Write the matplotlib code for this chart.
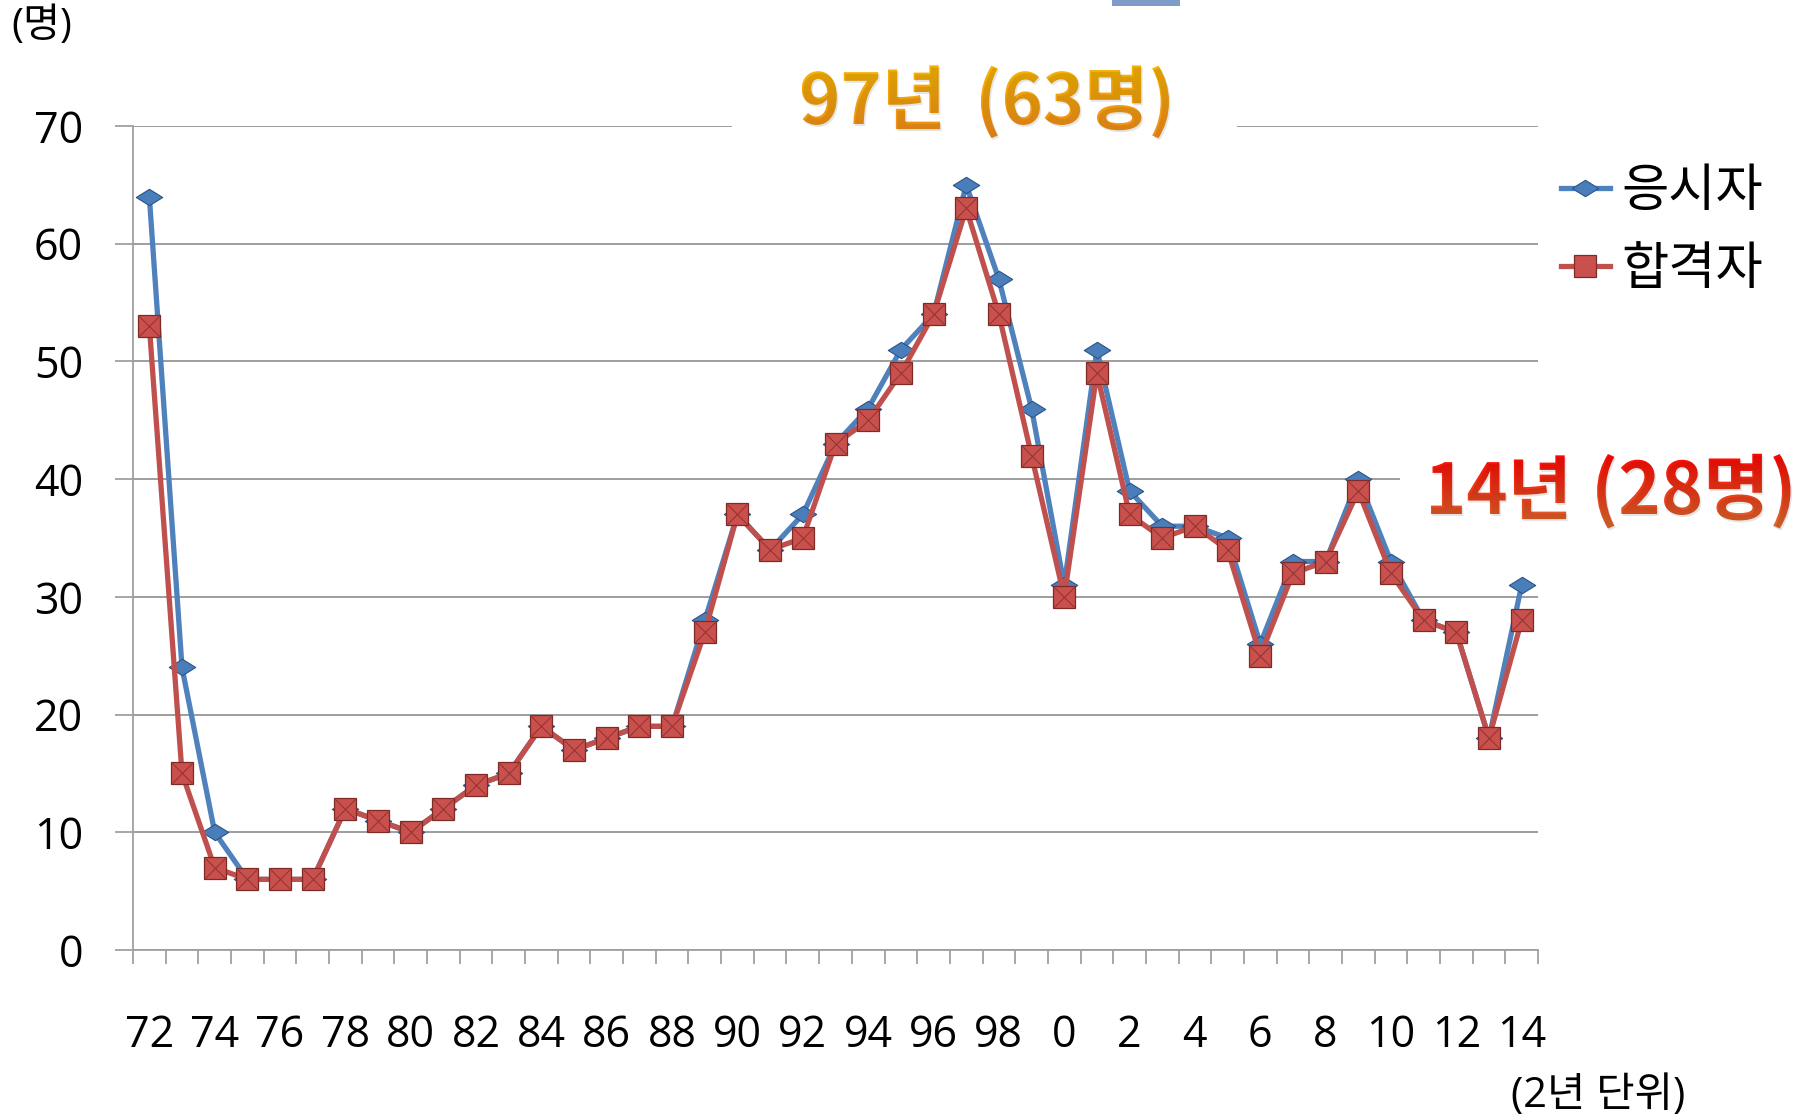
import numpy as np
import matplotlib
matplotlib.use("Agg")
import matplotlib.pyplot as plt
from matplotlib.textpath import TextPath
from matplotlib.patches import PathPatch, Rectangle
from matplotlib.font_manager import FontProperties
from matplotlib.path import Path
from matplotlib.transforms import Affine2D

plt.rcParams['font.family'] = ['Open Sans', 'Noto Sans CJK KR', 'DejaVu Sans']

# 연도 (1972 ~ 2014)
years = list(range(1972, 2015))
tick_labels = [str(y % 100) for y in years[::2]]

# 응시자 / 합격자 (명)
applicants = [64, 24, 10, 6, 6, 6, 12, 11, 10, 12,
              14, 15, 19, 17, 18, 19, 19, 28, 37, 34,
              37, 43, 46, 51, 54, 65, 57, 46, 31, 51,
              39, 36, 36, 35, 26, 33, 33, 40, 33, 28,
              27, 18, 31]
passed = [53, 15, 7, 6, 6, 6, 12, 11, 10, 12,
          14, 15, 19, 17, 18, 19, 19, 27, 37, 34,
          35, 43, 45, 49, 54, 63, 54, 42, 30, 49,
          37, 35, 36, 34, 25, 32, 33, 39, 32, 28,
          27, 18, 28]

W, H = 1802, 1120
fig = plt.figure(figsize=(W / 100, H / 100), dpi=100)
ax = fig.add_axes([133 / W, 1 - 950 / H, 1405 / W, 824 / H])

x = np.arange(len(years))

# 납작한 마름모 마커
diamond = Path([(-1, 0), (0, 0.62), (1, 0), (0, -0.62), (-1, 0)],
               [Path.MOVETO, Path.LINETO, Path.LINETO, Path.LINETO, Path.CLOSEPOLY])

blue = '#4F81BD'
red = '#C0504D'

ax.plot(x, applicants, color=blue, lw=3.8, marker=diamond, ms=19,
        mfc='#4A7EBB', mec='#2C5488', mew=0.8, zorder=3, label='응시자')
ax.plot(x, passed, color=red, lw=3.8, marker='s', ms=16,
        mfc='#C9504C', mec='#7E2A27', mew=0.9, zorder=4, label='합격자')
ax.plot(x, passed, ls='none', marker='x', ms=15, mec='#8E3330', mew=0.7, zorder=5)

ax.set_xlim(-0.5, len(years) - 0.5)
ax.set_ylim(0, 70)
ax.set_yticks(range(0, 71, 10))
ax.set_xticks(x[::2])
ax.set_xticklabels(tick_labels)
ax.set_xticks(np.arange(-0.5, len(years)), minor=True)

ax.tick_params(axis='x', which='major', length=0, pad=46, labelsize=31)
ax.tick_params(axis='x', which='minor', length=10, width=1.3, color='#A0A0A0')
ax.tick_params(axis='y', length=13, width=1.3, color='#A0A0A0', pad=23, labelsize=31)

ax.grid(axis='y', color='#8C8C8C', lw=1.2)
ax.set_axisbelow(True)
for s in ['top', 'right']:
    ax.spines[s].set_visible(False)
for s in ['left', 'bottom']:
    ax.spines[s].set_color('#A0A0A0')
    ax.spines[s].set_linewidth(1.3)

# 주석 텍스트 뒤의 흰 상자 (격자선 가림)
ax.add_patch(Rectangle((0.426, 0.94), 0.36, 0.12, transform=ax.transAxes,
                       facecolor='white', edgecolor='none', zorder=1.5, clip_on=False))
ax.add_patch(Rectangle((0.902, 0.53), 0.12, 0.08, transform=ax.transAxes,
                       facecolor='white', edgecolor='none', zorder=1.5, clip_on=False))

leg = ax.legend(loc='upper left', bbox_to_anchor=(1561 / W, 1 - 167 / H),
                bbox_transform=fig.transFigure, frameon=False, fontsize=37,
                handlelength=0.95, handletextpad=0.22, labelspacing=0.53,
                borderpad=0, borderaxespad=0)

fig.text(11 / W, 1 - 27 / H, '(명)', fontsize=29, va='center', ha='left')
fig.text(1511 / W, 1 - 1096 / H, '(2년 단위)', fontsize=30, va='center', ha='left')

# 위쪽 잘린 도형
fig.patches.append(Rectangle((1112 / W, 1 - 6 / H), 68 / W, 6 / H, transform=fig.transFigure,
                             facecolor='#7F9CC8', edgecolor='none'))

# 그라데이션 글씨
over = fig.add_axes([0, 0, 1, 1], zorder=10)
over.set_xlim(0, W)
over.set_ylim(0, H)
over.axis('off')
over.patch.set_alpha(0)

fp = FontProperties(family='Noto Sans CJK KR', weight='bold')


def gradient_text(s, x0, y0, size, top, bottom):
    tp = TextPath((0, 0), s, size=size, prop=fp)
    path = Affine2D().translate(x0, y0).transform_path(tp)
    ext = path.get_extents()
    shadow = PathPatch(Affine2D().translate(1.5, -2).transform_path(path),
                       facecolor='#000000', alpha=0.10, edgecolor='none')
    over.add_patch(shadow)
    patch = PathPatch(path, facecolor='none', edgecolor='none')
    over.add_patch(patch)
    t = np.linspace(0, 1, 64)[:, None]
    c0 = np.array(matplotlib.colors.to_rgb(top))
    c1 = np.array(matplotlib.colors.to_rgb(bottom))
    grad = (c0 * (1 - t) + c1 * t)[:, None, :]
    y_lo, y_hi = y0 - 0.25 * size, y0 + 0.9 * size
    img = over.imshow(grad, extent=[ext.x0, ext.x1, y_lo, y_hi], origin='upper',
                      aspect='auto', interpolation='bilinear')
    img.set_clip_path(patch)


gradient_text('97년', 799, 996, 70, '#F6B800', '#F28A1C')
gradient_text('(63명)', 975, 996, 70, '#F6B800', '#F28A1C')
gradient_text('14년', 1425, 606, 70, '#FF0000', '#DC7030')
gradient_text('(28명)', 1591, 606, 72, '#FF0000', '#DC7030')

fig.savefig('out.png', dpi=100)
